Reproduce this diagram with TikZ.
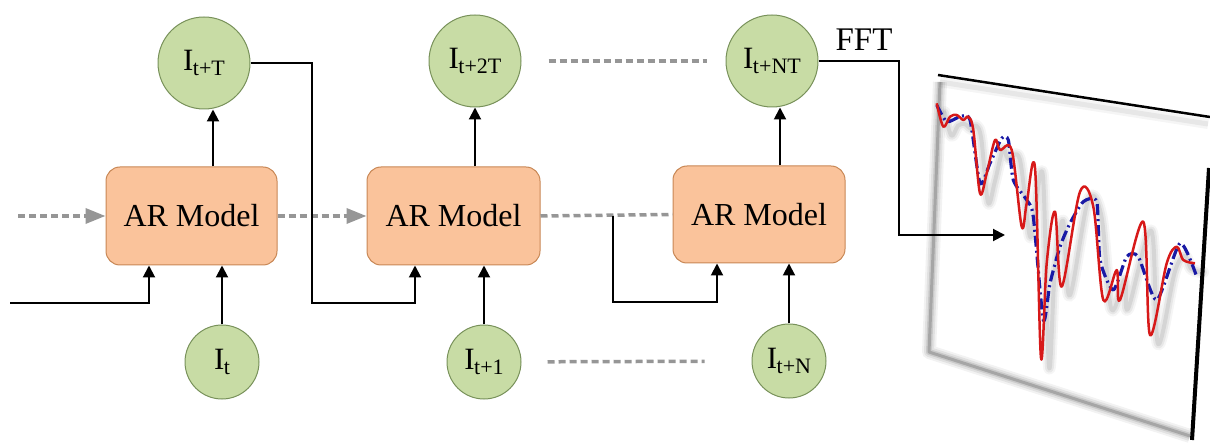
\documentclass[tikz,border=0pt]{standalone}
\usepackage{fontspec}
\setmainfont{Liberation Serif}
\usetikzlibrary{arrows.meta,calc}
\definecolor{cfill}{RGB}{200,220,165}
\definecolor{cdraw}{RGB}{120,145,90}
\definecolor{bfill}{RGB}{250,195,155}
\definecolor{bdraw}{RGB}{200,135,85}
\definecolor{dgrey}{RGB}{150,150,150}
\definecolor{cred}{RGB}{215,25,25}
\definecolor{cblue}{RGB}{25,25,165}
\newcommand{\Isub}[1]{I\kern-0.5pt\raisebox{-5pt}{\fontsize{22}{22}\selectfont #1}}
\begin{document}
\begin{tikzpicture}[x=1pt,y=-1pt,
 bigc/.style={circle,fill=cfill,draw=cdraw,line width=1pt,minimum size=92pt,inner sep=0pt,font=\fontsize{31}{31}\selectfont},
 smallc/.style={circle,fill=cfill,draw=cdraw,line width=1pt,minimum size=74pt,inner sep=0pt,font=\fontsize{31}{31}\selectfont},
 armodel/.style={rectangle,rounded corners=14pt,fill=bfill,draw=bdraw,line width=1pt,minimum width=171pt,minimum height=98pt,inner sep=0pt,font=\fontsize{32}{32}\selectfont},
 conn/.style={line width=2pt,black},
 arr/.style={conn,-{Triangle[length=12pt,width=12pt]}},
 gdash/.style={dgrey,line width=3.5pt,dash pattern=on 7pt off 4pt},
 garr/.style={gdash,-{Triangle[length=20pt,width=15pt]}},
 redc/.style={cred,line width=2.5pt,line join=round},
 bluec/.style={cblue,line width=3.2pt,dash pattern=on 11pt off 4pt on 2pt off 4pt,line join=round}
]
\useasboundingbox (0,0) rectangle (1210,443);

% ---------- nodes
\node[bigc] (oT) at (204,63) {\Isub{t+T}};
\node[bigc] (o2T) at (475,61) {\Isub{t+2T}};
\node[bigc] (oNT) at (772,61) {\Isub{t+NT}};
\node[armodel] (ar1) at (191.5,216) {AR Model};
\node[armodel,minimum width=173pt] (ar2) at (453.5,216) {AR Model};
\node[armodel,minimum width=172pt,minimum height=97pt] (ar3) at (759,214.5) {AR Model};
\node[smallc] (it) at (222,362) {\Isub{t}};
\node[smallc] (it1) at (484,362) {\Isub{t+1}};
\node[smallc] (itN) at (789,361) {\Isub{t+N}};
\node[font=\fontsize{33}{33}\selectfont,inner sep=0pt] (fft) at (864,40) {FFT};

% ---------- helper coordinates
\coordinate (inG) at (18,216);
\coordinate (inL) at (10,303);
\coordinate (c149) at (149,303);
\coordinate (x1) at (213,0);
\coordinate (k1) at (312,303);
\coordinate (k2) at (415,303);
\coordinate (k3) at (613,216);
\coordinate (k4) at (613,302);
\coordinate (k5) at (717,302);
\coordinate (x3) at (780,0);
\coordinate (k6) at (899,235);
\coordinate (k7) at (1005,235);

% ---------- grey dashed
\draw[garr] (inG) -- (ar1.west);
\draw[garr] (ar1.east) -- (ar2.west);
\draw[gdash] (ar2.east) -- (ar3.west);
\draw[gdash,shorten <=27pt,shorten >=19pt] (o2T) -- (oNT);
\draw[gdash,shorten <=26pt,shorten >=47pt] (it1) -- (itN);

% ---------- black connectors
\draw[arr] (inL) -- (c149) -- (c149 |- ar1.south);
\draw[arr] (it.north) -- (it.north |- ar1.south);
\draw[arr] (ar1.north -| x1) -- (x1 |- oT.south);
\draw[arr] (oT.east) -| (k1) -- (k2) -- (k2 |- ar2.south);
\draw[arr] (it1.north) -- (it1.north |- ar2.south);
\draw[arr] (ar2.north -| o2T) -- (o2T.south);
\draw[arr] (k3) -- (k4) -- (k5) -- (k5 |- ar3.south);
\draw[arr] (itN.north) -- (itN.north |- ar3.south);
\draw[arr] (ar3.north -| x3) -- (x3 |- oNT.south);
\draw[arr] (oNT.east) -| (k6) -- (k7);

% ---------- chart panel
\foreach \w/\o in {14/0.05,10/0.07,6/0.1,3/0.18}
  \draw[black,opacity=\o,line width=\w pt,line join=round] (940,82) -- (929,352) -- (1190,436);
\foreach \w/\o in {10/0.04,5/0.06}
  \draw[black,opacity=\o,line width=\w pt] (940,82) -- (1208,124);
\draw[black,line width=2.5pt] (938,75) -- (1210,117);
\draw[black,line width=4pt] (1209,168) -- (1192,440);

% curve shadows
\foreach \w/\o in {12/0.04,8/0.06,4/0.08}
\draw[black,opacity=\o,line width=\w pt,line join=round,line cap=round,shift={(8,9)}] plot[smooth,tension=0.55] coordinates {(936.7,103.3) (943.3,126.7) (950,116.7) (956.7,115) (963.3,120) (968.3,116.7) (973.3,130) (980,193.3) (986.7,173.3) (995,140) (1000,150) (1011.7,150) (1021.7,226.7) (1026.7,203.3) (1035,168) (1041,358) (1046.7,263.3) (1055,211.7) (1061.7,286.7) (1080,191.7) (1093.3,206.7) (1103.3,300) (1116.7,270) (1120,300) (1143.3,221.7) (1150,335) (1166.7,263.3) (1176.7,246.7) (1183.3,260) (1195,263.3)};

% blue dash-dot curve
\draw[bluec] plot[smooth,tension=0.4] coordinates {(936.7,105) (946.7,121.7) (960,116.7) (970,120) (980,183.3) (990,163.3) (1001.7,138.3) (1008.3,140) (1013.3,180) (1026.7,200) (1033.3,216.7) (1043.3,320) (1050,283.3) (1060,246.7) (1070,223.3) (1083.3,201.7) (1096.7,201.7) (1100,260) (1113.3,290) (1126.7,256.7) (1138.3,256.7) (1156.7,300) (1180,243.3) (1196.7,276.7)};

% red solid curve
\draw[redc] plot[smooth,tension=0.55] coordinates {(936.7,103.3) (943.3,126.7) (950,116.7) (956.7,115) (963.3,120) (968.3,116.7) (973.3,130) (980,193.3) (986.7,173.3) (995,140) (1000,150) (1011.7,150) (1021.7,226.7) (1026.7,203.3) (1035,168) (1041,358) (1046.7,263.3) (1055,211.7) (1061.7,286.7) (1080,191.7) (1093.3,206.7) (1103.3,300) (1116.7,270) (1120,300) (1143.3,221.7) (1150,335) (1166.7,263.3) (1176.7,246.7) (1183.3,260) (1195,263.3)};
\end{tikzpicture}
\end{document}
